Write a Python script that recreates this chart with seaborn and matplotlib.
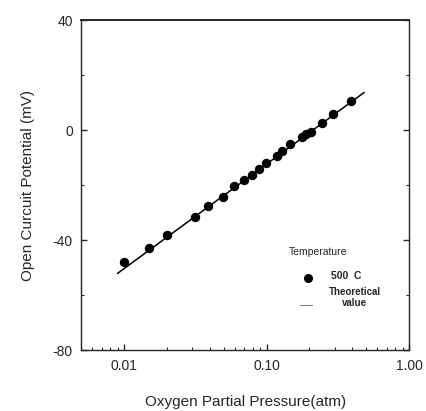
import numpy as np
import pandas as pd
import seaborn as sns
import matplotlib.pyplot as plt
from matplotlib.ticker import LogLocator, FixedLocator, NullFormatter

# measured open circuit potential at 500 C
pressure = [0.0100, 0.0150, 0.0200, 0.0316, 0.0391, 0.0494, 0.059, 0.069,
            0.079, 0.089, 0.0995, 0.118, 0.128, 0.147, 0.176, 0.190,
            0.206, 0.245, 0.294, 0.391]
potential = [-47.9, -43.0, -38.1, -31.5, -27.4, -24.2, -20.3, -18.2,
             -16.4, -14.2, -12.1, -9.3, -7.5, -5.2, -2.4, -1.5,
             -0.6, 2.7, 5.7, 10.5]

# theoretical line end points
theo_p = [0.009, 0.484]
theo_v = [-52.1, 13.7]

y_ticks = [-80, -40, 0, 40]
x_ticks = [0.01, 0.1, 1.0]
x_ticklabels = ["0.01", "0.10", "1.00"]

df = pd.DataFrame({"p": pressure, "v": potential})
theo = pd.DataFrame({"p": theo_p, "v": theo_v})

sns.set_style("ticks")
plt.rcParams["font.family"] = ["Liberation Sans", "DejaVu Sans"]
plt.rcParams["axes.unicode_minus"] = False

fig = plt.figure(figsize=(4.27, 4.11), dpi=100)
ax = fig.add_axes([0.190, 0.148, 0.768, 0.803])

sns.lineplot(data=theo, x="p", y="v", color="black", linewidth=1.1, ax=ax)
sns.scatterplot(data=df, x="p", y="v", color="black", s=46,
                edgecolor="black", linewidth=0, ax=ax, zorder=3)

ax.set_xscale("log")
ax.set_xlim(0.005, 1.0)
ax.set_ylim(-80, 40)
ax.set_xticks(x_ticks)
ax.set_xticklabels(x_ticklabels)
ax.xaxis.set_minor_locator(LogLocator(base=10, subs=np.arange(2, 10)))
ax.xaxis.set_minor_formatter(NullFormatter())
ax.set_yticks(y_ticks)
ax.yaxis.set_minor_locator(FixedLocator([-60, -20, 20]))

ax.tick_params(which="major", direction="in", length=4, width=1,
               labelsize=10, right=True, pad=6)
ax.tick_params(which="minor", direction="in", length=2.5, width=0.8,
               right=True)
for side in ["left", "right", "bottom"]:
    ax.spines[side].set_linewidth(1.0)
ax.spines["top"].set_linewidth(1.4)

ax.set_xlabel("Oxygen Partial Pressure(atm)", fontsize=11, labelpad=16)
ax.set_ylabel("Open Curcuit Potential (mV)", fontsize=11, labelpad=13)

# hand-made legend
ax.text(0.723, 0.297, "Temperature", transform=ax.transAxes, fontsize=7.5,
        ha="center", va="center")
ax.plot([0.692], [0.218], "o", color="black", markersize=5.5,
        transform=ax.transAxes)
ax.text(0.762, 0.224, "500  C", transform=ax.transAxes, fontsize=7.5,
        ha="left", va="center", fontweight="bold")
ax.text(0.835, 0.175, "Theoretical", transform=ax.transAxes, fontsize=7,
        ha="center", va="center", fontweight="bold")
ax.text(0.835, 0.142, "value", transform=ax.transAxes, fontsize=7,
        ha="center", va="center", fontweight="bold")
ax.plot([0.668, 0.704], [0.136, 0.136], color="gray", linewidth=0.8,
        transform=ax.transAxes)

fig.savefig("out.png", dpi=100)
